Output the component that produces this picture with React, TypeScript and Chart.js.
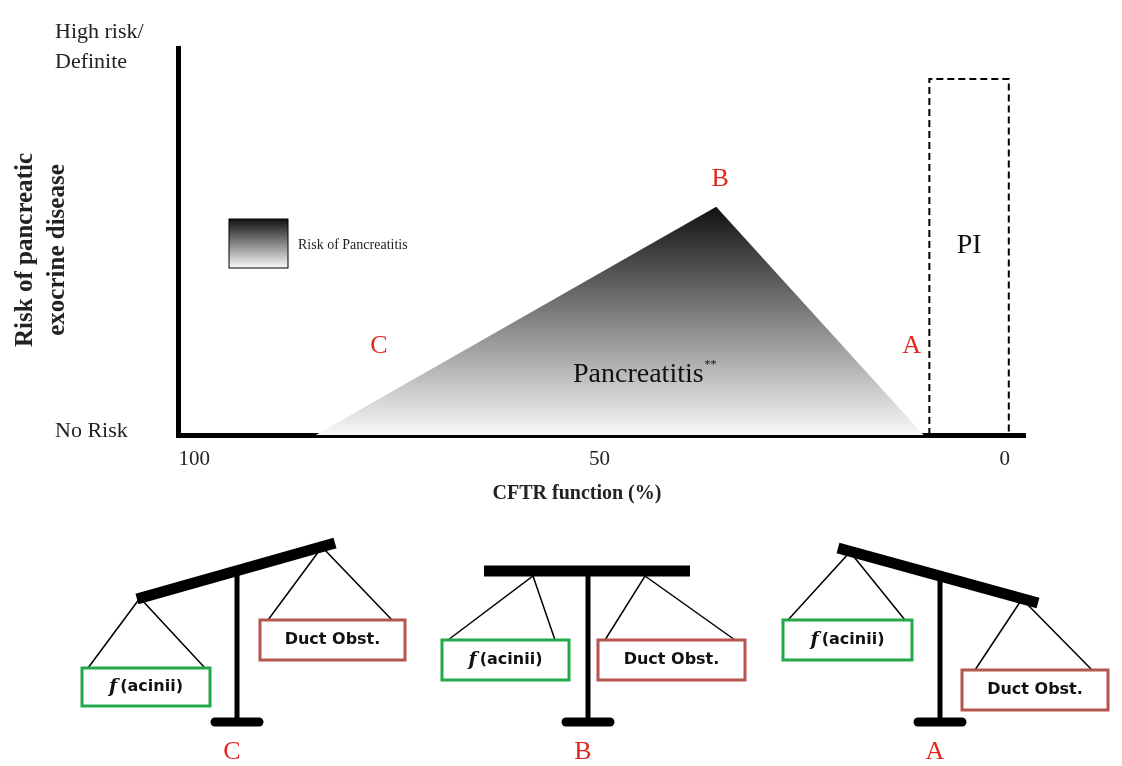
import { useEffect, useRef } from "react";
import { Chart, registerables, type Plugin } from "chart.js";

Chart.register(...registerables);

// ---- top chart data (x = CFTR function %, y = risk 0..1) ----
const xTicks = [100, 50, 0];
const triangleX = [85, 35.6, 10];
const triangleY = [0, 0.59, 0];
const piBoxX = [9.3, 9.3, -0.5, -0.5];
const piBoxY = [0, 0.92, 0.92, 0];
const yLabels = ["No Risk", "High risk/Definite"];

// ---- balance diagrams (local pixel units of the lower panel) ----
const balanceNames = ["C", "B", "A"];
const beams = [
  [137, 79, 335, 23],
  [484, 51, 690, 51],
  [838, 28, 1038, 83],
];
const poles = [237, 588, 940];
const leftStrings = [
  [140, 78, 88, 148, 205, 148],
  [533, 56, 448, 120, 555, 120],
  [850, 32, 788, 100, 905, 100],
];
const rightStrings = [
  [322, 27, 268, 100, 392, 100],
  [645, 56, 605, 120, 735, 120],
  [1022, 79, 975, 150, 1092, 150],
];
const greenBoxes = [
  [82, 148, 128, 38],
  [442, 120, 127, 40],
  [783, 100, 129, 40],
];
const redBoxes = [
  [260, 100, 145, 40],
  [598, 120, 147, 40],
  [962, 150, 146, 40],
];

const serif = "'Liberation Serif', 'DejaVu Serif', serif";

const topText: Plugin = {
  id: "topText",
  afterDraw(chart) {
    const { ctx, scales } = chart;
    const x = scales.x;
    const y = scales.y;
    ctx.save();
    ctx.textBaseline = "middle";
    ctx.fillStyle = "#222";
    ctx.font = `22px ${serif}`;
    ctx.textAlign = "left";
    ctx.fillText("High risk/", 55, 32);
    ctx.fillText("Definite", 55, 62);
    ctx.fillText(yLabels[0], 55, 431);
    ctx.font = `bold 20px ${serif}`;
    ctx.textAlign = "center";
    ctx.fillText("CFTR function (%)", 577, 494);
    ctx.save();
    ctx.translate(28, 250);
    ctx.rotate(-Math.PI / 2);
    ctx.font = `bold 25px ${serif}`;
    ctx.fillText("Risk of pancreatic", 0, -2);
    ctx.fillText("exocrine disease", 0, 30);
    ctx.restore();

    ctx.fillStyle = "#e3261f";
    ctx.font = `26px ${serif}`;
    ctx.fillText("B", x.getPixelForValue(35.6) + 4, y.getPixelForValue(0.66));
    ctx.fillText("C", x.getPixelForValue(77.2), y.getPixelForValue(0.23));
    ctx.fillText("A", x.getPixelForValue(11.5), y.getPixelForValue(0.23));

    ctx.fillStyle = "#111";
    ctx.font = `28px ${serif}`;
    ctx.fillText("PI", x.getPixelForValue(4.4), y.getPixelForValue(0.49));
    ctx.textAlign = "left";
    ctx.fillText("Pancreatitis", 573, 375);
    const pw = ctx.measureText("Pancreatitis").width;
    ctx.font = `12px ${serif}`;
    ctx.fillText("**", 573 + pw + 1, 365);

    // legend swatch
    const g = ctx.createLinearGradient(0, 219, 0, 268);
    g.addColorStop(0, "#111");
    g.addColorStop(1, "#fafafa");
    ctx.fillStyle = g;
    ctx.fillRect(229, 219, 59, 49);
    ctx.strokeStyle = "#000";
    ctx.lineWidth = 1;
    ctx.strokeRect(229, 219, 59, 49);
    ctx.fillStyle = "#222";
    ctx.font = `14px ${serif}`;
    ctx.fillText("Risk of Pancreatitis", 298, 245);
    ctx.restore();
  },
};

const bottomText: Plugin = {
  id: "bottomText",
  afterDraw(chart) {
    const { ctx, scales } = chart;
    const px = (v: number) => scales.x.getPixelForValue(v);
    const py = (v: number) => scales.y.getPixelForValue(v);
    ctx.save();
    ctx.textBaseline = "middle";
    const drawBox = (b: number[], color: string) => {
      ctx.fillStyle = "#fff";
      ctx.fillRect(px(b[0]), py(b[1]), b[2], b[3]);
      ctx.strokeStyle = color;
      ctx.lineWidth = 3;
      ctx.strokeRect(px(b[0]), py(b[1]), b[2], b[3]);
    };
    greenBoxes.forEach((b) => {
      drawBox(b, "#22a84a");
      ctx.fillStyle = "#111";
      ctx.textAlign = "left";
      ctx.font = "italic bold 19px 'DejaVu Serif', serif";
      const fw = ctx.measureText("f").width;
      ctx.font = "bold 16px 'DejaVu Sans', sans-serif";
      const tw = ctx.measureText("(acinii)").width;
      const sx = px(b[0]) + (b[2] - fw - tw - 3) / 2;
      const cy = py(b[1]) + b[3] / 2;
      ctx.font = "italic bold 19px 'DejaVu Serif', serif";
      ctx.fillText("f", sx, cy);
      ctx.font = "bold 16px 'DejaVu Sans', sans-serif";
      ctx.fillText("(acinii)", sx + fw + 3, cy);
    });
    redBoxes.forEach((b) => {
      drawBox(b, "#b5554f");
      ctx.fillStyle = "#111";
      ctx.textAlign = "center";
      ctx.font = "bold 16px 'DejaVu Sans', sans-serif";
      ctx.fillText("Duct Obst.", px(b[0]) + b[2] / 2, py(b[1]) + b[3] / 2);
    });
    ctx.fillStyle = "#e3261f";
    ctx.font = `26px ${serif}`;
    ctx.textAlign = "center";
    balanceNames.forEach((n, i) => ctx.fillText(n, px(poles[i] - 5), py(232)));
    ctx.restore();
  },
};

function line(points: { x: number; y: number }[], width: number, cap: CanvasLineCap = "butt") {
  return {
    data: points,
    borderColor: "#000",
    borderWidth: width,
    borderCapStyle: cap,
    pointRadius: 0,
    fill: false,
    tension: 0,
  };
}

export default function App() {
  const topRef = useRef<HTMLCanvasElement>(null);
  const bottomRef = useRef<HTMLCanvasElement>(null);

  useEffect(() => {
    const top = topRef.current;
    const bottom = bottomRef.current;
    if (!top || !bottom) return;

    const topChart = new Chart(top, {
      type: "line",
      data: {
        datasets: [
          {
            data: triangleX.map((x, i) => ({ x, y: triangleY[i] })),
            borderWidth: 0,
            pointRadius: 0,
            fill: "origin",
            backgroundColor: (context: any) => {
              const { ctx, chartArea } = context.chart;
              if (!chartArea) return "#888";
              const yS = context.chart.scales.y;
              const g = ctx.createLinearGradient(0, yS.getPixelForValue(0.59), 0, yS.getPixelForValue(0));
              g.addColorStop(0, "#111");
              g.addColorStop(1, "#f8f8f8");
              return g;
            },
          },
          {
            data: piBoxX.map((x, i) => ({ x, y: piBoxY[i] })),
            borderColor: "#000",
            borderWidth: 2,
            borderDash: [7, 4],
            pointRadius: 0,
            fill: false,
            clip: false,
          } as any,
        ],
      },
      options: {
        animation: false,
        responsive: false,
        layout: { padding: { top: 48, right: 97, left: 0, bottom: 0 } },
        plugins: { legend: { display: false }, tooltip: { enabled: false } },
        scales: {
          x: {
            type: "linear",
            reverse: true,
            min: -2.5,
            max: 102,
            afterBuildTicks: (s) => {
              s.ticks = xTicks.map((value) => ({ value }));
            },
            afterFit: (s) => {
              s.height = 85;
            },
            grid: { display: false },
            border: { color: "#000", width: 5 },
            ticks: { color: "#222", font: { size: 21, family: serif }, padding: 4 },
          },
          y: {
            min: 0,
            max: 1,
            afterFit: (s) => {
              s.width = 178;
            },
            grid: { display: false },
            border: { color: "#000", width: 5 },
            ticks: { display: false },
          },
        },
      },
      plugins: [topText],
    });

    const datasets: any[] = [];
    beams.forEach((b, i) => {
      datasets.push(line([{ x: poles[i], y: (b[1] + b[3]) / 2 }, { x: poles[i], y: 202 }], 5));
      datasets.push(line([{ x: poles[i] - 22, y: 202 }, { x: poles[i] + 22, y: 202 }], 9, "round"));
      datasets.push(line([{ x: b[0], y: b[1] }, { x: b[2], y: b[3] }], 11));
      [leftStrings[i], rightStrings[i]].forEach((s) => {
        datasets.push(
          line(
            [
              { x: s[2], y: s[3] },
              { x: s[0], y: s[1] },
              { x: s[4], y: s[5] },
            ],
            1.5
          )
        );
      });
    });

    const bottomChart = new Chart(bottom, {
      type: "line",
      data: { datasets },
      options: {
        animation: false,
        responsive: false,
        layout: { padding: 0 },
        plugins: { legend: { display: false }, tooltip: { enabled: false } },
        scales: {
          x: { type: "linear", min: 0, max: 1122, display: false },
          y: { type: "linear", min: 0, max: 246, reverse: true, display: false },
        },
      },
      plugins: [bottomText],
    });

    return () => {
      topChart.destroy();
      bottomChart.destroy();
    };
  }, []);

  return (
    <div style={{ width: 1122, height: 766, background: "#fff", overflow: "hidden" }}>
      <style>{"body{margin:0}"}</style>
      <canvas ref={topRef} width={1122} height={520} style={{ display: "block" }} />
      <canvas ref={bottomRef} width={1122} height={246} style={{ display: "block" }} />
    </div>
  );
}
